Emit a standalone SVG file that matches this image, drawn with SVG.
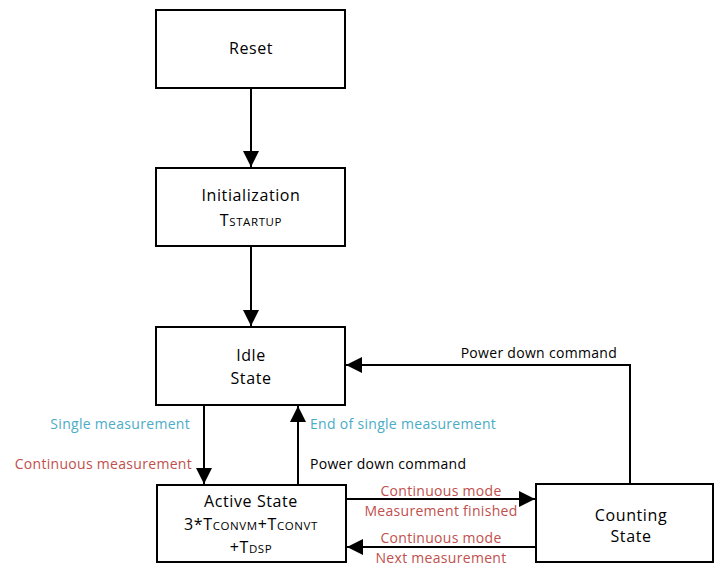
<svg xmlns="http://www.w3.org/2000/svg" width="715" height="567" viewBox="0 0 715 567">
<defs>
<style>
.box{fill:#fff;stroke:#000;stroke-width:2}
.nt{font-family:"Open Sans","Liberation Sans",sans-serif;font-size:16px;fill:#000;text-anchor:middle;letter-spacing:0.6px}
.sm{font-size:11.5px}
.lb{font-family:"Open Sans","Liberation Sans",sans-serif;font-size:14px;letter-spacing:0.3px}
.blk{fill:#000}
.cy{fill:#4BACC6}
.rd{fill:#C0504D}
.ln{fill:none;stroke:#000;stroke-width:2;marker-end:url(#ah)}
</style>
<marker id="ah" markerUnits="userSpaceOnUse" markerWidth="16" markerHeight="16" refX="16" refY="8" orient="auto">
<path d="M0,0 L16,8 L0,16 z" fill="#000"/>
</marker>
</defs>
<rect width="715" height="567" fill="#fff"/>
<g id="connectors">
<line class="ln" x1="251" y1="89" x2="251" y2="167"/>
<line class="ln" x1="251" y1="246" x2="251" y2="326"/>
<line class="ln" x1="204" y1="405" x2="204" y2="484"/>
<line class="ln" x1="298" y1="485" x2="298" y2="406"/>
<polyline class="ln" points="630,484 630,365 346,365"/>
<line class="ln" x1="346" y1="499" x2="535" y2="499"/>
<line class="ln" x1="536" y1="547" x2="347" y2="547"/>
<text class="lb cy" x="190" y="429" text-anchor="end">Single measurement</text>
<text class="lb rd" x="192" y="469" text-anchor="end">Continuous measurement</text>
<text class="lb cy" x="310" y="429">End of single measurement</text>
<text class="lb blk" x="310" y="469">Power down command</text>
<text class="lb blk" x="617" y="358" text-anchor="end">Power down command</text>
<text class="lb rd" x="441" y="496" text-anchor="middle">Continuous mode</text>
<text class="lb rd" x="441" y="516" text-anchor="middle">Measurement finished</text>
<text class="lb rd" x="441" y="543" text-anchor="middle">Continuous mode</text>
<text class="lb rd" x="441" y="563" text-anchor="middle">Next measurement</text>
</g>
<g id="reset">
<rect class="box" x="156" y="10" width="189" height="78"/>
<text class="nt" x="251" y="54">Reset</text>
</g>
<g id="init">
<rect class="box" x="156" y="168" width="189" height="78"/>
<text class="nt" x="251" y="201">Initialization</text>
<text class="nt" x="251" y="226">T<tspan class="sm">STARTUP</tspan></text>
</g>
<g id="idle">
<rect class="box" x="156" y="327" width="189" height="78"/>
<text class="nt" x="251" y="361">Idle</text>
<text class="nt" x="251" y="384">State</text>
</g>
<g id="active">
<rect class="box" x="157" y="485" width="189" height="77"/>
<text class="nt" x="251" y="507">Active State</text>
<text class="nt" x="251" y="530">3*T<tspan class="sm">CONVM</tspan>+T<tspan class="sm">CONVT</tspan></text>
<text class="nt" x="251" y="553">+T<tspan class="sm">DSP</tspan></text>
</g>
<g id="counting">
<rect class="box" x="536" y="484" width="177" height="78"/>
<text class="nt" x="631" y="521">Counting</text>
<text class="nt" x="631" y="542">State</text>
</g>
</svg>
